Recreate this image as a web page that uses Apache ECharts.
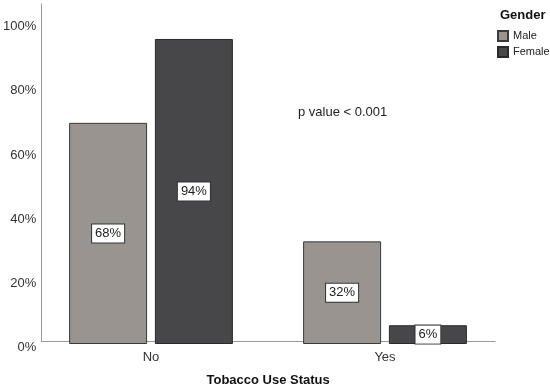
<!DOCTYPE html>
<html>
<head>
<meta charset="utf-8">
<script src="https://cdn.jsdelivr.net/npm/echarts@6/dist/echarts.min.js"></script>
<style>html,body{margin:0;padding:0;background:#fff}#c{width:550px;height:392px}</style>
</head>
<body>
<div id="c"></div>
<script>
const categories = ['No', 'Yes'];
const maleValues = [68.3, 31.7];
const femaleValues = [94.2, 5.8];
const seriesNames = ['Male', 'Female'];
const yTicks = [0, 20, 40, 60, 80, 100];

const FONT = 'Liberation Sans, Arial, sans-serif';
const chart = echarts.init(document.getElementById('c'), null, {renderer: 'canvas'});
const labelStyle = {
  show: true, position: 'inside',
  formatter: p => Math.round(p.value) + '%',
  backgroundColor: '#fff', borderColor: '#333', borderWidth: 1,
  padding: [3, 3, 2, 3], color: '#222', fontSize: 13, fontFamily: FONT
};
chart.setOption({
  animation: false,
  textStyle: {fontFamily: FONT},
  title: {text: 'Gender', left: 500, top: 9, padding: 0,
    textStyle: {fontSize: 13, fontWeight: 'bold', color: '#111', fontFamily: FONT}},
  legend: {
    data: seriesNames, orient: 'vertical', left: 497, top: 30, padding: 0,
    itemWidth: 10, itemHeight: 10, itemGap: 4, icon: 'rect',
    textStyle: {fontSize: 11, color: '#222', fontFamily: FONT}
  },
  grid: [
    {left: 34, right: 48, top: 4, bottom: 48},
    {left: 41, right: 55, top: 4, bottom: 48}
  ],
  xAxis: [
    {gridIndex: 0, type: 'category', data: categories,
     axisLine: {show: false}, axisTick: {show: false},
     axisLabel: {fontSize: 13, color: '#333', margin: 7, fontFamily: FONT}},
    {gridIndex: 1, type: 'category', data: categories,
     axisLine: {show: true, lineStyle: {color: '#999', width: 1}}, axisTick: {show: false},
     axisLabel: {show: false},
     name: 'Tobacco Use Status', nameLocation: 'middle', nameGap: 33,
     nameTextStyle: {fontSize: 13, fontWeight: 'bold', color: '#111', fontFamily: FONT}}
  ],
  yAxis: [
    {gridIndex: 0, type: 'value', min: 0, max: 105, show: false, splitLine: {show: false}},
    {gridIndex: 1, type: 'value', min: 0, max: 105, interval: 20,
     axisLine: {show: true, lineStyle: {color: '#999', width: 1}}, axisTick: {show: false},
     splitLine: {show: false},
     axisLabel: {fontSize: 13, color: '#333', margin: 5, fontFamily: FONT, padding: [0, 0, 0, 0],
       verticalAlign: 'top', lineHeight: 13,
       formatter: v => yTicks.indexOf(v) >= 0 ? v + '%' : ''}}
  ],
  series: [
    {name: seriesNames[0], type: 'bar', xAxisIndex: 0, yAxisIndex: 0, data: maleValues,
     barWidth: 78, barGap: '10%',
     itemStyle: {color: '#99948f', borderColor: '#3a3a3a', borderWidth: 1},
     label: labelStyle},
    {name: seriesNames[1], type: 'bar', xAxisIndex: 0, yAxisIndex: 0, data: femaleValues,
     barWidth: 78, barGap: '10%',
     itemStyle: {color: '#47474a', borderColor: '#2a2a2a', borderWidth: 1},
     label: labelStyle}
  ],
  graphic: [
    {type: 'text', left: 298, top: 106,
     style: {text: 'p value < 0.001', fontSize: 13, fill: '#222', fontFamily: FONT}}
  ]
});
</script>
</body>
</html>
